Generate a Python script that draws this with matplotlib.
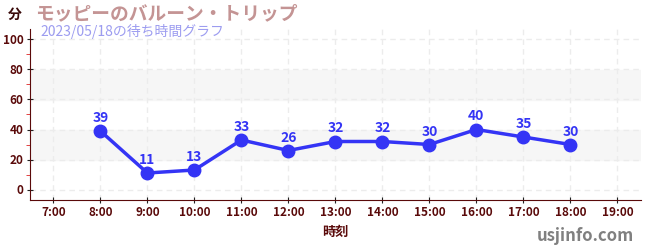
import matplotlib.pyplot as plt

plt.rcParams['font.family'] = ['Noto Sans CJK JP', 'DejaVu Sans']

# Datos
horas = [8, 9, 10, 11, 12, 13, 14, 15, 16, 17, 18]
espera = [39, 11, 13, 33, 26, 32, 32, 30, 40, 35, 30]
xticks = list(range(7, 20))
xlabels = ['{}:00'.format(h) for h in xticks]
yticks = [0, 20, 40, 60, 80, 100]

titulo = 'モッピーのバルーン・トリップ'
subtitulo = '2023/05/18の待ち時間グラフ'

eixo = '#5a0a0a'
azul = '#3434f5'

fig = plt.figure(figsize=(6.5, 2.5), dpi=100)
ax = fig.add_axes([0.046, 0.2, 0.94, 0.684])

# faixas cinzas
for y0 in [20, 60]:
    ax.axhspan(y0, y0 + 20, color='#f6f6f6', zorder=0)

ax.plot(horas, espera, color=azul, lw=2.5, marker='o', ms=9, zorder=3)
for h, v in zip(horas, espera):
    ax.text(h, v + 4, str(v), ha='center', va='bottom', color=azul,
            fontsize=10, fontweight='bold', zorder=4)

ax.set_xlim(6.5, 19.5)
ax.set_ylim(-7, 107)
ax.set_xticks(xticks)
ax.set_xticklabels(xlabels)
ax.set_yticks(yticks)
ax.set_yticks(list(range(10, 100, 20)), minor=True)
ax.grid(True, which='major', color='#ececec', ls=(0, (4, 3)), lw=1)
ax.set_axisbelow(True)

for s in ['top', 'right']:
    ax.spines[s].set_visible(False)
ax.spines['left'].set_color(eixo)
ax.spines['bottom'].set_color(eixo)
ax.tick_params(axis='both', which='major', colors='#222222', length=5,
               direction='inout', pad=2, labelsize=8.5, labelcolor=eixo)
ax.tick_params(axis='y', which='minor', colors='#dd2222', length=3)
for lb in ax.get_xticklabels() + ax.get_yticklabels():
    lb.set_fontweight('bold')

ax.set_xlabel('時刻', fontsize=9.5, fontweight='bold', color=eixo, labelpad=4)

fig.text(0.023, 0.94, '分', fontsize=10, fontweight='bold', color='#3a0a0a',
         ha='center', va='center')
fig.text(0.054, 0.945, titulo, fontsize=13.5, fontweight='bold',
         color='#c49494', ha='left', va='center')
fig.text(0.062, 0.875, subtitulo, fontsize=10, color='#9c9cf0',
         ha='left', va='center')
fig.text(0.975, 0.055, 'usjinfo.com', fontsize=12, fontweight='bold',
         color='#808080', ha='right', va='center')

fig.savefig('out.png', dpi=100)
